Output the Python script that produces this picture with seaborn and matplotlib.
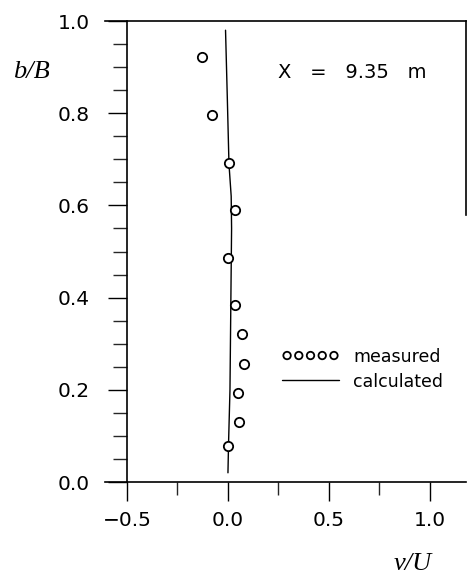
import numpy as np
import pandas as pd
import seaborn as sns
import matplotlib.pyplot as plt
from matplotlib.ticker import MultipleLocator

# measured points (v/U, b/B)
meas_v = [-0.13, -0.08, 0.005, 0.033, 0.0, 0.036, 0.068, 0.081, 0.051, 0.054, 0.0]
meas_b = [0.922, 0.796, 0.693, 0.590, 0.487, 0.385, 0.321, 0.257, 0.194, 0.131, 0.079]

# calculated profile
calc_v = [0.0, 0.003, 0.010, 0.015, 0.018, 0.016, 0.005, -0.003, -0.012]
calc_b = [0.02, 0.085, 0.20, 0.42, 0.55, 0.62, 0.69, 0.83, 0.98]

y_ticks = [0.0, 0.2, 0.4, 0.6, 0.8, 1.0]
x_ticks = [-0.5, 0.0, 0.5, 1.0]

sns.set_style('ticks')
plt.rcParams['font.family'] = ['DejaVu Sans']
plt.rcParams['text.color'] = 'black'

meas = pd.DataFrame({'v': meas_v, 'b': meas_b})
calc = pd.DataFrame({'v': calc_v, 'b': calc_b})

fig = plt.figure(figsize=(4.68, 5.77), dpi=100)
ax = fig.add_axes([0.224, 0.1646, 0.772, 0.799])

sns.lineplot(data=calc, x='v', y='b', sort=False, estimator=None, color='black',
             linewidth=1.0, ax=ax, label='calculated')
sns.scatterplot(data=meas, x='v', y='b', marker='o', s=45, facecolors='white',
                edgecolor='black', linewidth=1.3, ax=ax, label='measured', zorder=3)

ax.set_xlim(-0.61, 1.18)
ax.set_ylim(0.0, 1.0)

# frame: left spine sits at v/U = -0.5, right one only partly drawn
ax.spines['left'].set_position(('data', -0.5))
ax.spines['right'].set_bounds(0.58, 1.0)
for s in ax.spines.values():
    s.set_linewidth(1.2)
    s.set_color('black')

ax.set_yticks(y_ticks)
ax.set_yticklabels([f'{t:.1f}' for t in y_ticks])
ax.yaxis.set_minor_locator(MultipleLocator(0.05))
ax.set_xticks(x_ticks)
ax.set_xticklabels([f'{t:.1f}'.replace('-', '\u2212') for t in x_ticks])
ax.xaxis.set_minor_locator(MultipleLocator(0.25))

ax.tick_params(axis='y', which='major', direction='out', length=14, width=1.0,
               pad=13, labelsize=14.5, colors='black')
ax.tick_params(axis='y', which='minor', direction='out', length=10, width=1.0)
ax.tick_params(axis='x', which='major', direction='out', length=14, width=1.0,
               pad=7, labelsize=14.5, colors='black')
ax.tick_params(axis='x', which='minor', direction='out', length=9, width=1.0)

ax.set_xlabel('')
ax.set_ylabel('')
ax.text(-0.202, 0.889, 'b/B', transform=ax.transAxes, fontsize=19, style='italic',
        family='Liberation Serif', ha='center', va='center')
ax.text(0.853, -0.178, 'v/U', transform=ax.transAxes, fontsize=19, style='italic',
        family='Liberation Serif', ha='center', va='center')

ax.text(0.685, 0.889, 'X   =   9.35   m', transform=ax.transAxes, fontsize=14,
        ha='center', va='center')

handles, labels = ax.get_legend_handles_labels()
order = [labels.index('measured'), labels.index('calculated')]
leg = ax.legend([handles[i] for i in order], [labels[i] for i in order],
                loc='center left', bbox_to_anchor=(0.49, 0.245), frameon=False,
                fontsize=12.5, scatterpoints=5, scatteryoffsets=[0.5],
                markerscale=0.8, handlelength=3.3, handletextpad=0.8,
                labelspacing=0.4, borderpad=0, borderaxespad=0)

fig.savefig('out.png', dpi=100)
